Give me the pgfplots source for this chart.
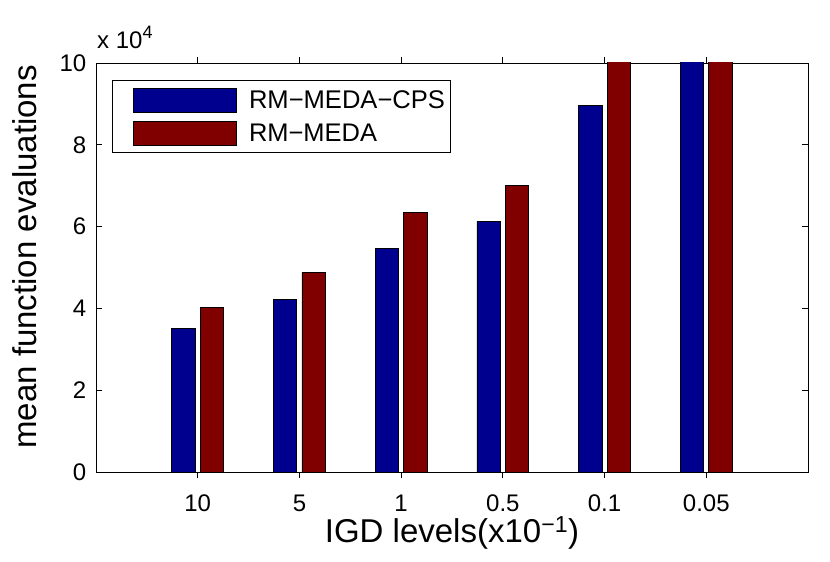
\documentclass[border=0pt]{standalone}
\usepackage{fontspec}
\setmainfont{Liberation Sans}
\usepackage{graphicx}
\usepackage{pgfplots}
\pgfplotsset{compat=1.18}
\definecolor{cpsblue}{rgb}{0,0,0.5625}
\definecolor{medared}{rgb}{0.5,0,0}
\newcommand\tickfont{\fontsize{24}{28}\selectfont}
\newcommand\labfont{\fontsize{33}{38}\selectfont}
\begin{document}
\begin{tikzpicture}
\begin{axis}[
  at={(0,0)}, anchor=south west,
  scale only axis, width=712pt, height=409pt,
  xmin=0, xmax=7, ymin=0, ymax=10,
  xtick={1,2,3,4,5,6},
  xticklabels={10,5,1,0.5,0.1,0.05},
  ytick={0,2,4,6,8,10},
  tick align=inside, major tick length=6pt,
  tick style={black, line width=0.8pt},
  axis line style={black, line width=0.9pt},
  /pgf/number format/assume math mode=true,
  every tick label/.append style={font=\tickfont},
  xticklabel style={anchor=base, yshift=-33.5pt},
  yticklabel style={anchor=east, inner xsep=0pt, xshift=-9.5pt},
  xlabel={\labfont IGD levels(x10\textsuperscript{−1})},
  ylabel={\labfont mean function evaluations},
  xlabel style={at={(axis description cs:0.5,0)}, anchor=base, yshift=-70pt},
  ylabel style={at={(axis description cs:-0.0833,0.526)}, anchor=base},
  ybar, bar width=0.23,
  clip=true,
  legend style={at={(axis description cs:0.02247,0.9584)}, anchor=north west,
    draw=black, line width=0.8pt,
    row sep=8.2pt, inner xsep=3.5pt, inner ysep=7.2pt,
    cells={anchor=west}},
  legend image code/.code={\path (-16.7pt,0pt) (113.6pt,0pt);
    \draw[#1, line width=0.8pt] (0pt,-12pt) rectangle (103pt,12pt);},
]
\addplot[fill=cpsblue, draw=black, line width=0.8pt, bar shift=-0.14] coordinates {(1,3.51) (2,4.21) (3,5.47) (4,6.13) (5,8.96) (6,10.5)};
\addplot[fill=medared, draw=black, line width=0.8pt, bar shift=0.14] coordinates {(1,4.02) (2,4.88) (3,6.35) (4,7.01) (5,10.5) (6,10.5)};
\legend{\resizebox{196pt}{!}{RM−MEDA−CPS}, \resizebox{128pt}{!}{RM−MEDA}}
\end{axis}
\node[anchor=base west, inner sep=0pt, font=\tickfont] at (1pt,423.7pt) {x 10\raisebox{10pt}{\fontsize{18}{20}\selectfont 4}};
\path (-96pt,-90pt) rectangle (734pt,472pt);
\end{tikzpicture}
\end{document}
